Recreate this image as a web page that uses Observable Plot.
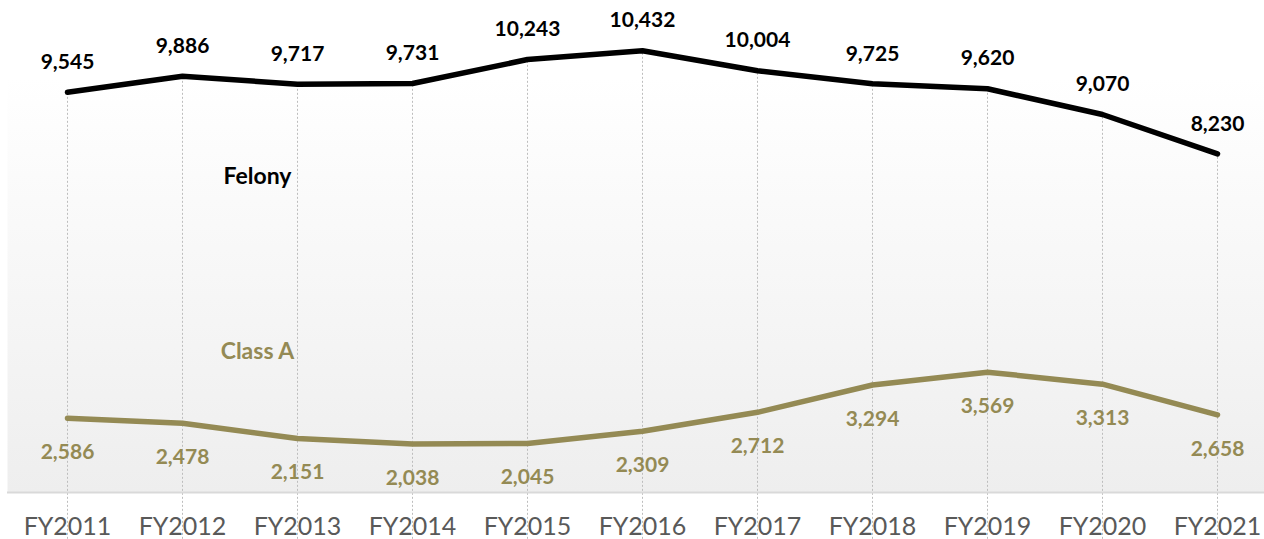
<!DOCTYPE html>
<html>
<head>
<meta charset="utf-8">
<script src="https://cdn.jsdelivr.net/npm/d3@7"></script>
<script src="https://cdn.jsdelivr.net/npm/@observablehq/plot@0.6"></script>
<style>
  html, body { margin: 0; padding: 0; background: #ffffff; }
  #chart svg { display: block; }
</style>
</head>
<body>
<div id="chart"></div>
<script>
const years = ["FY2011","FY2012","FY2013","FY2014","FY2015","FY2016","FY2017","FY2018","FY2019","FY2020","FY2021"];
const felony = [9545, 9886, 9717, 9731, 10243, 10432, 10004, 9725, 9620, 9070, 8230];
const classA = [2586, 2478, 2151, 2038, 2045, 2309, 2712, 3294, 3569, 3313, 2658];
const seriesNames = ["Felony", "Class A"];
const seriesLabelPos = [{x: "FY2012", y: 7750}, {x: "FY2012", y: 4000}];

const felonyColor = "#000000";
const classAColor = "#948A54";

const felonyData = years.map((y, i) => ({year: y, value: felony[i]}));
const classAData = years.map((y, i) => ({year: y, value: classA[i]}));
const labelData = seriesNames.map((n, i) => ({name: n, year: seriesLabelPos[i].x, value: seriesLabelPos[i].y, color: i === 0 ? felonyColor : classAColor}));

const font = "Lato, 'Open Sans', sans-serif";

const chart = Plot.plot({
  width: 1264,
  height: 539,
  marginTop: 77,
  marginBottom: 47,
  marginLeft: 7,
  marginRight: 0,
  style: {fontFamily: font, background: "transparent"},
  x: {type: "point", domain: years, range: [65, 1219], padding: 0, label: null},
  y: {domain: [1000, 9860], axis: null},
  marks: [
    Plot.frame({fill: "#f2f2f2", stroke: "none"}),
    Plot.ruleX(felonyData, {x: "year", y1: "value", stroke: "#bdbdbd", strokeWidth: 1, strokeDasharray: "2,2"}),
    Plot.ruleY([1000], {stroke: "#d9d9d9", strokeWidth: 2}),
    Plot.line(felonyData, {x: "year", y: "value", stroke: felonyColor, strokeWidth: 5.5, strokeLinecap: "round", strokeLinejoin: "round"}),
    Plot.line(classAData, {x: "year", y: "value", stroke: classAColor, strokeWidth: 5.5, strokeLinecap: "round", strokeLinejoin: "round"}),
    Plot.text(felonyData, {x: "year", y: "value", text: d => d3.format(",")(d.value), dy: -30, fill: felonyColor, fontWeight: "bold", fontSize: 21}),
    Plot.text(classAData, {x: "year", y: "value", text: d => d3.format(",")(d.value), dy: 34, fill: classAColor, fontWeight: "bold", fontSize: 21}),
    Plot.text(labelData, {x: "year", y: "value", text: "name", fill: "color", dx: 75, fontWeight: "bold", fontSize: 23}),
    Plot.axisX({tickSize: 0, tickPadding: 25, fontSize: 25, color: "#595959", label: null})
  ]
});

// vertical gradient background for the plot area
const svg = d3.select(chart);
const defs = svg.insert("defs", ":first-child");
const grad = defs.append("linearGradient").attr("id", "bgGrad").attr("x1", 0).attr("y1", 0).attr("x2", 0).attr("y2", 1);
grad.append("stop").attr("offset", "0%").attr("stop-color", "#ffffff");
grad.append("stop").attr("offset", "100%").attr("stop-color", "#eeeeee");
svg.selectAll("[aria-label=frame]").attr("fill", "url(#bgGrad)");
svg.selectAll("[aria-label=frame] rect").attr("fill", "url(#bgGrad)");

document.getElementById("chart").appendChild(chart);
</script>
</body>
</html>
